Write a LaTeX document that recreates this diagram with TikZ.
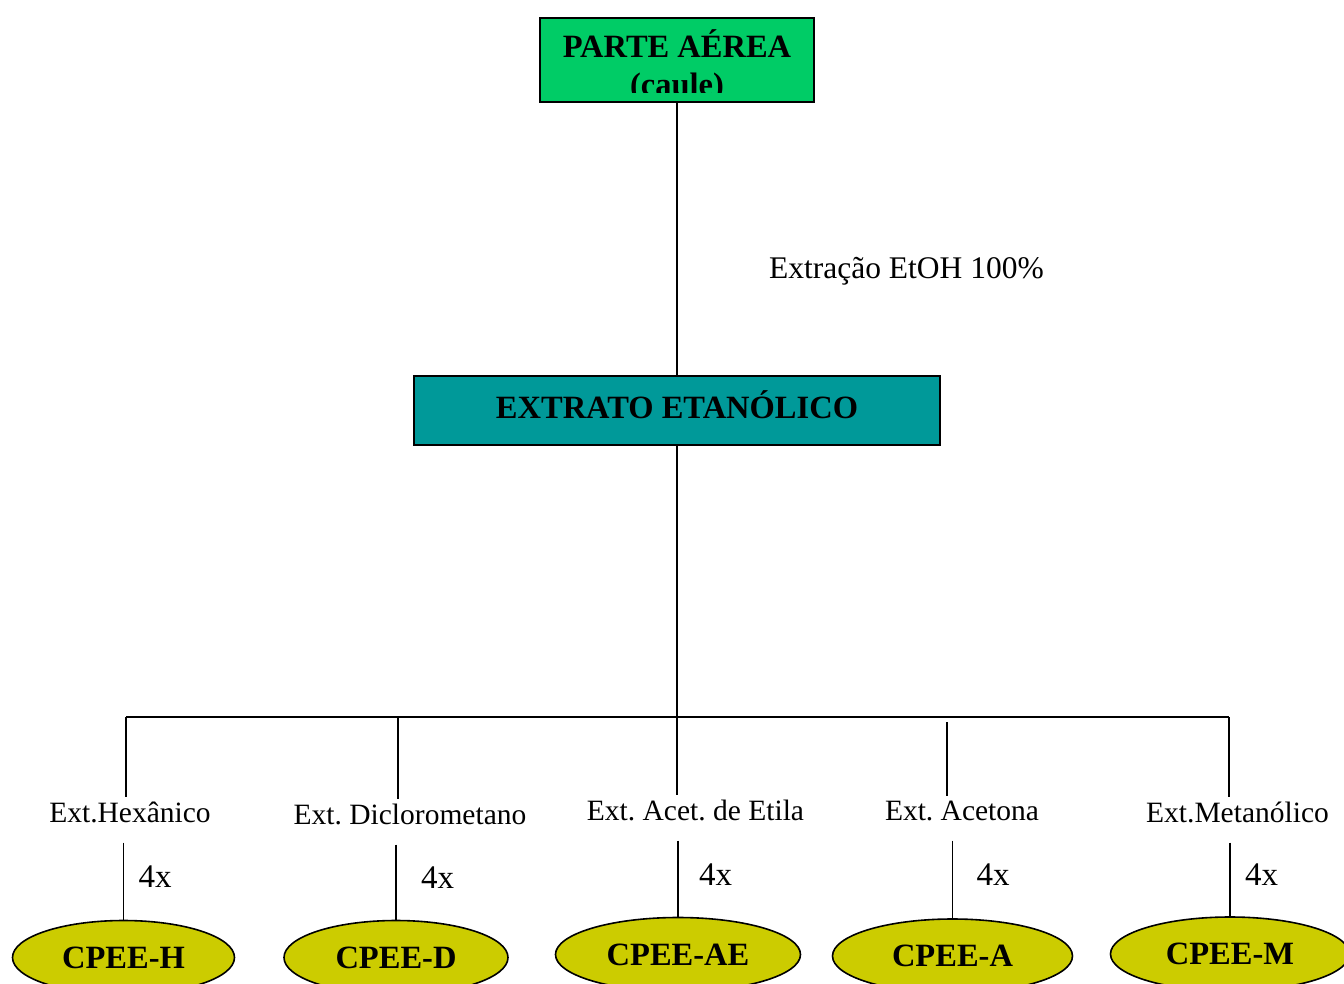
\documentclass[tikz,border=0pt]{standalone}
\usepackage{fontspec}
\setmainfont{Liberation Serif}
\usepackage{tikz}
\usetikzlibrary{positioning, shapes.geometric}
\definecolor{partegreen}{RGB}{0, 204, 102}
\definecolor{extratoteal}{RGB}{0, 153, 153}
\definecolor{cpeeyellow}{RGB}{204, 204, 0}
\frenchspacing

\begin{document}
\begin{tikzpicture}[x=1pt, y=-1pt, line width=1.6pt,
    negrito/.style={font=\bfseries\fontsize{32.5}{36}\selectfont},
    rotulo/.style={font=\fontsize{29.5}{34}\selectfont},
    vezes/.style={font=\fontsize{33}{36}\selectfont},
    caixa/.style={draw, negrito, line width=2pt, inner sep=0pt, text height=21pt, text depth=6pt},
    cpee/.style={ellipse, draw, negrito, fill=cpeeyellow, inner sep=0pt, minimum height=74pt, text height=21pt, text depth=0pt}]
    \useasboundingbox (0,0) rectangle (1344,983);
    \clip (0,0) rectangle (1344,983);

    \node[caixa, fill=partegreen, minimum width=274pt, minimum height=84pt] (parte) at (677,60) {};
    \begin{scope}
        \clip (540,18) rectangle (814,92.5);
        \node[negrito, anchor=base] (parteTxt) at (677,57) {PARTE AÉREA};
        \node[negrito, anchor=base] (cauleTxt) at (677,95) {(caule)};
    \end{scope}
    \node[caixa, fill=extratoteal, minimum width=526pt, minimum height=69pt] (etanol) at (677,410.5) {EXTRATO ETANÓLICO};
    \draw (parte) -- (etanol) node[rotulo, font=\fontsize{31.5}{36}\selectfont, pos=0.62, right=88pt] (etoh) {Extração EtOH 100\%};

    \node[rotulo, anchor=base] (hexanico) at (130,822) {Ext.Hexânico};
    \node[rotulo, anchor=base] (dicloro) at (410,824) {Ext. Diclorometano};
    \node[rotulo, anchor=base] (acetato) at (695.5,820) {Ext. Acet. de Etila};
    \node[rotulo, anchor=base] (acetona) at (962,820) {Ext. Acetona};
    \node[rotulo, anchor=base] (metanol) at (1237.5,822) {Ext.Metanólico};

    \node[cpee, minimum width=222pt] (cpeeH) at (123.5,957.5) {CPEE-H};
    \node[cpee, minimum width=224pt] (cpeeD) at (396,957.5) {CPEE-D};
    \node[cpee, minimum width=245pt] (cpeeAE) at (678,954.5) {CPEE-AE};
    \node[cpee, minimum width=240pt] (cpeeA) at (952.5,956) {CPEE-A};
    \node[cpee, minimum width=239pt] (cpeeM) at (1230,954) {CPEE-M};

    \coordinate (barH) at (126,717);
    \coordinate (barD) at (398,717);
    \coordinate (barA) at (947,717);
    \coordinate (barM) at (1229,717);
    \draw (barH) -- (barM);
    \draw (etanol) -- (etanol.south |- acetato.north);
    \draw (barH) -- (barH |- hexanico.north);
    \draw (barD) -- (barD |- dicloro.north);
    \draw[shorten <=5pt] (barA) -- (barA |- acetona.north);
    \draw (barM) -- (barM |- metanol.north);

    \draw[shorten <=16pt] (cpeeH.north |- hexanico.south) -- (cpeeH.north) node[vezes, pos=0.54, right=11pt] (vezesH) {4x};
    \draw[shorten <=16pt] (cpeeD.north |- dicloro.south) -- (cpeeD.north) node[vezes, pos=0.54, right=21pt] (vezesD) {4x};
    \draw[shorten <=16pt] (cpeeAE.north |- acetato.south) -- (cpeeAE.north) node[vezes, pos=0.54, right=17pt] (vezesAE) {4x};
    \draw[shorten <=16pt] (cpeeA.north |- acetona.south) -- (cpeeA.north) node[vezes, pos=0.54, right=20pt] (vezesA) {4x};
    \draw[shorten <=16pt] (cpeeM.north |- metanol.south) -- (cpeeM.north) node[vezes, pos=0.54, right=11pt] (vezesM) {4x};
\end{tikzpicture}
\end{document}
